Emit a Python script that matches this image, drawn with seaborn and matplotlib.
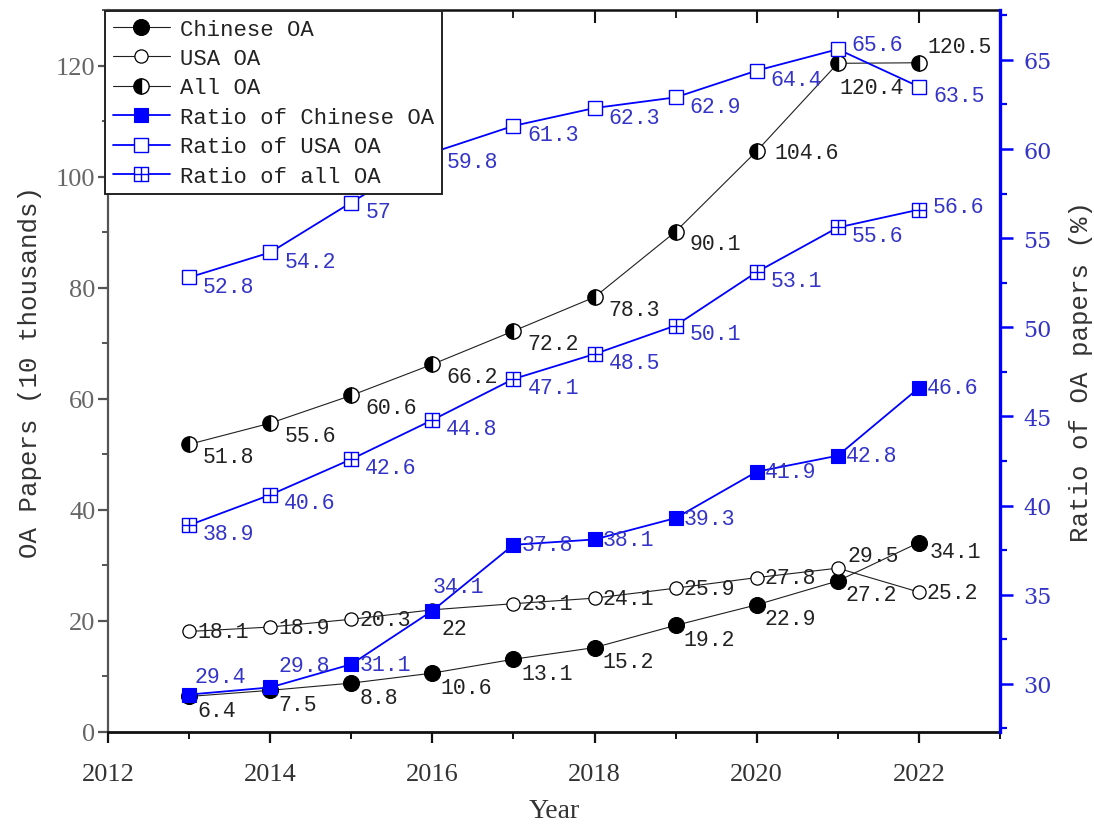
import matplotlib
matplotlib.use("Agg")
import matplotlib.pyplot as plt
from matplotlib.path import Path
from matplotlib.ticker import MultipleLocator
import seaborn as sns

# ---- data -------------------------------------------------------------
years = [2013, 2014, 2015, 2016, 2017, 2018, 2019, 2020, 2021, 2022]

chinese_oa = [6.4, 7.5, 8.8, 10.6, 13.1, 15.2, 19.2, 22.9, 27.2, 34.1]
usa_oa = [18.1, 18.9, 20.3, 22, 23.1, 24.1, 25.9, 27.8, 29.5, 25.2]
all_oa = [51.8, 55.6, 60.6, 66.2, 72.2, 78.3, 90.1, 104.6, 120.4, 120.5]

ratio_chinese_oa = [29.4, 29.8, 31.1, 34.1, 37.8, 38.1, 39.3, 41.9, 42.8, 46.6]
ratio_usa_oa = [52.8, 54.2, 57, 59.8, 61.3, 62.3, 62.9, 64.4, 65.6, 63.5]
ratio_all_oa = [38.9, 40.6, 42.6, 44.8, 47.1, 48.5, 50.1, 53.1, 55.6, 56.6]

series_names = ["Chinese OA", "USA OA", "All OA",
                "Ratio of Chinese OA", "Ratio of USA OA", "Ratio of all OA"]

x_label = "Year"
left_label = "OA Papers (10 thousands)"
right_label = "Ratio of OA papers (%)"

# ---- style ------------------------------------------------------------
sns.set_theme(style="ticks")
plt.rcParams["font.family"] = ["Liberation Serif", "DejaVu Serif"]

BLUE = "#0000ff"
BLUE_TXT = "#3434c8"
BLACK_TXT = "#222222"
MONO = ["Liberation Mono", "DejaVu Sans Mono"]

# square with a cross inside
box_cross = Path(
    [(-1, -1), (1, -1), (1, 1), (-1, 1), (-1, -1),
     (0, -1), (0, 1), (-1, 0), (1, 0)],
    [Path.MOVETO, Path.LINETO, Path.LINETO, Path.LINETO, Path.CLOSEPOLY,
     Path.MOVETO, Path.LINETO, Path.MOVETO, Path.LINETO],
)

fig = plt.figure(figsize=(10.94, 8.29), dpi=100)
ax = fig.add_axes([108 / 1094, 1 - 733 / 829, (1000 - 108) / 1094, (733 - 11) / 829])
ax2 = ax.twinx()

black_line = dict(color="#202020", linewidth=0.8, errorbar=None, legend=False)
blue_line = dict(color=BLUE, linewidth=1.3, errorbar=None, legend=False)

sns.lineplot(x=years, y=chinese_oa, ax=ax, marker="o", markersize=11.5,
             markerfacecolor="black", markeredgecolor="black",
             markeredgewidth=0.8, label=series_names[0], **black_line)
sns.lineplot(x=years, y=usa_oa, ax=ax, marker="o", markersize=9.5,
             markerfacecolor="white", markeredgecolor="black",
             markeredgewidth=0.9, label=series_names[1], **black_line)
sns.lineplot(x=years, y=all_oa, ax=ax, marker="o", markersize=11,
             fillstyle="left", markerfacecolor="black",
             markerfacecoloralt="white", markeredgecolor="black",
             markeredgewidth=1.0, label=series_names[2], **black_line)

sns.lineplot(x=years, y=ratio_chinese_oa, ax=ax2, marker="s", markersize=10,
             markerfacecolor=BLUE, markeredgecolor=BLUE,
             markeredgewidth=0.8, label=series_names[3], **blue_line)
sns.lineplot(x=years, y=ratio_usa_oa, ax=ax2, marker="s", markersize=9.5,
             markerfacecolor="white", markeredgecolor=BLUE,
             markeredgewidth=1.0, label=series_names[4], **blue_line)
sns.lineplot(x=years, y=ratio_all_oa, ax=ax2, marker=box_cross, markersize=9.5,
             markerfacecolor="white", markeredgecolor=BLUE,
             markeredgewidth=1.0, label=series_names[5], **blue_line)

# ---- value labels ----------------------------------------------------
label_layout = [
    (ax, chinese_oa, BLACK_TXT, (8, -14), {2022: (11, -9)}),
    (ax, usa_oa, BLACK_TXT, (8, 0), {2016: (9, -19), 2021: (10, 13)}),
    (ax, all_oa, BLACK_TXT, (14, -12),
     {2020: (18, -1), 2021: (2, -24), 2022: (9, 16)}),
    (ax2, ratio_chinese_oa, BLUE_TXT, (8, 0),
     {2013: (5, 18), 2014: (8, 22), 2016: (0, 24)}),
    (ax2, ratio_usa_oa, BLUE_TXT, (14, -9), {2021: (14, 5)}),
    (ax2, ratio_all_oa, BLUE_TXT, (14, -8), {2022: (14, 3)}),
]
for axis, values, colour, offset, special in label_layout:
    for yr, v in zip(years, values):
        axis.annotate(f"{v:g}", (yr, v), xytext=special.get(yr, offset),
                      textcoords="offset pixels", ha="left", va="center",
                      fontsize=15.5, family=MONO, color=colour, zorder=6)

# ---- axes -------------------------------------------------------------
ax.set_xlim(2012, 2023)
ax.set_ylim(0, 130)
ax2.set_ylim(27.3, 67.8)

ax.xaxis.set_major_locator(MultipleLocator(2))
ax.xaxis.set_minor_locator(MultipleLocator(1))
ax.yaxis.set_major_locator(MultipleLocator(20))
ax.yaxis.set_minor_locator(MultipleLocator(10))
ax2.yaxis.set_major_locator(MultipleLocator(5))
ax2.yaxis.set_minor_locator(MultipleLocator(2.5))

ax.tick_params(axis="x", which="major", direction="out", length=8, width=1.6,
               color="#111111", labelsize=19, labelcolor="#333333", pad=14)
ax.tick_params(axis="x", which="minor", direction="out", length=5, width=1.4,
               color="#111111")
ax.tick_params(axis="y", which="major", direction="out", length=7, width=1.6,
               color="#555555", labelsize=19, labelcolor="#666666", pad=2)
ax.tick_params(axis="y", which="minor", direction="out", length=4, width=1.4,
               color="#555555")
ax2.tick_params(axis="y", which="major", direction="out", length=9, width=1.8,
                color=BLUE, labelsize=16, labelcolor=BLUE_TXT, pad=8)
ax2.tick_params(axis="y", which="minor", direction="out", length=5, width=1.6,
                color=BLUE)
for lab in ax2.get_yticklabels():
    lab.set_family("DejaVu Serif")

top = ax.secondary_xaxis("top")
top.xaxis.set_major_locator(MultipleLocator(2))
top.xaxis.set_minor_locator(MultipleLocator(1))
top.tick_params(axis="x", which="major", direction="in", length=9, width=1.5,
                color="#111111", labeltop=False)
top.tick_params(axis="x", which="minor", direction="in", length=6, width=1.3,
                color="#111111")
top.spines["top"].set_linewidth(1.8)
top.spines["top"].set_color("#111111")

ax.spines["bottom"].set_linewidth(2.0)
ax.spines["bottom"].set_color("#111111")
ax.spines["left"].set_linewidth(1.6)
ax.spines["left"].set_color("#555555")
ax.spines["top"].set_visible(False)
ax.spines["right"].set_visible(False)
for side in ("top", "left", "bottom"):
    ax2.spines[side].set_visible(False)
ax2.spines["right"].set_linewidth(2.4)
ax2.spines["right"].set_color(BLUE)

ax.set_xlabel(x_label, fontsize=20, color="#333333", labelpad=10)
ax.set_ylabel(left_label, fontsize=18.5, family=MONO, color="#333333", labelpad=10)
ax2.set_ylabel(right_label, fontsize=18.5, family=MONO, color="#333333", labelpad=12)

# ---- legend -----------------------------------------------------------
h1, l1 = ax.get_legend_handles_labels()
h2, l2 = ax2.get_legend_handles_labels()
leg = fig.legend(h1 + h2, l1 + l2, loc="upper left",
                 bbox_to_anchor=(105 / 1094, 1 - 12 / 829),
                 bbox_transform=fig.transFigure, borderaxespad=0,
                 prop={"family": MONO, "size": 16}, frameon=True,
                 fancybox=False, shadow=False, framealpha=1,
                 edgecolor="#222222", handlelength=2.6, handletextpad=0.45,
                 labelspacing=0.38, borderpad=0.34)
leg.get_frame().set_linewidth(1.4)
for txt in leg.get_texts():
    txt.set_color(BLACK_TXT)

fig.savefig("out.png", dpi=100)
